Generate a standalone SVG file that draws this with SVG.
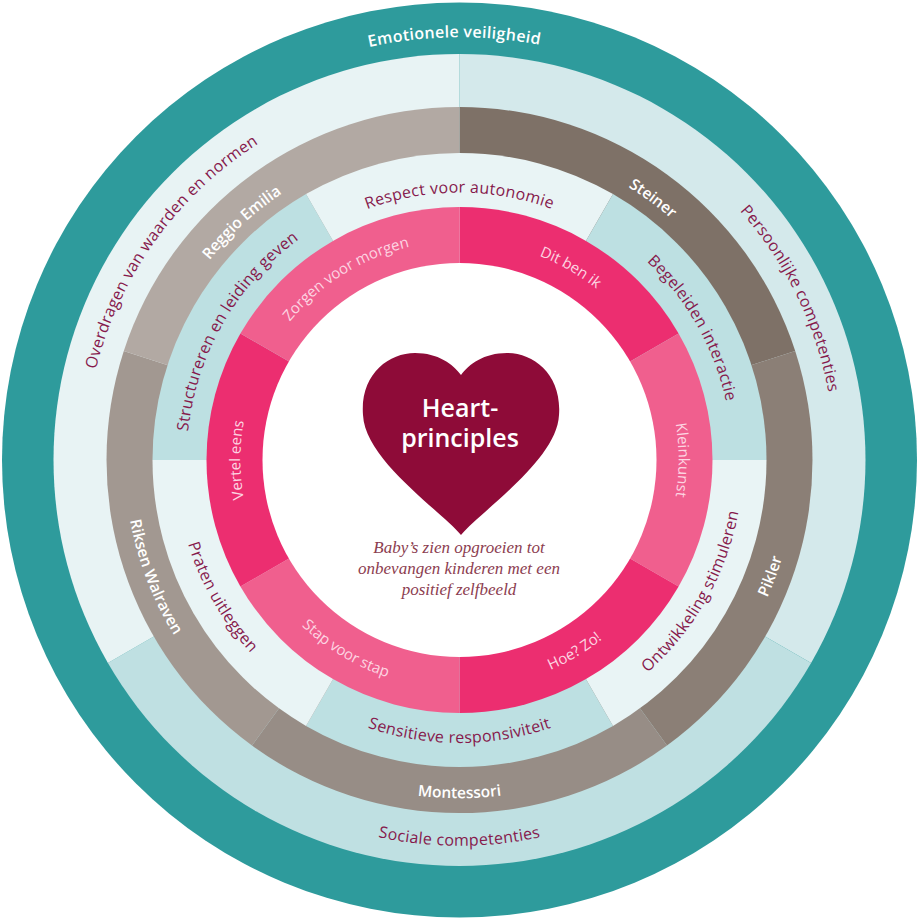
<svg xmlns="http://www.w3.org/2000/svg" xmlns:xlink="http://www.w3.org/1999/xlink" width="919" height="919" viewBox="0 0 919 919">
<style>
.ws{font-family:"Open Sans","Noto Sans",sans-serif;font-weight:600;fill:#ffffff;font-size:16px;letter-spacing:0.3px}
.gs{font-family:"Open Sans","Noto Sans",sans-serif;font-weight:600;fill:#ffffff;font-size:15.5px}
.ms{font-family:"Open Sans","Noto Sans",sans-serif;font-size:16px;fill:#86194c;letter-spacing:0.3px}
.ps{font-family:"Open Sans","Noto Sans",sans-serif;font-size:15px;fill:#fdd5e2}
.teal{fill:#2e9b9c}
.ol-l{fill:#e8f3f4}.ol-r{fill:#d4e9eb}.ol-b{fill:#bfe0e2}
.il-l{fill:#e9f4f5}.il-b{fill:#bde0e2}
.pk-d{fill:#ec2e70}.pk-l{fill:#f05f8e}
.heart{fill:#8e0b38}
.ht{font-family:"Open Sans","Noto Sans",sans-serif;font-weight:600;fill:#ffffff;font-size:25px}
.sub{font-family:"Liberation Serif",serif;font-style:italic;font-size:17px;fill:#8c3d50}
</style>
<defs>
<path id="pT1" d="M 42.1 391.6 A 423 423 0 0 1 875.1 381.5"/>
<path id="pO1" d="M 356.1 99.5 A 375 375 0 0 1 679.9 763.4"/>
<path id="pO2" d="M 79.4 527 A 386 386 0 0 0 839.6 527"/>
<path id="pO3" d="M 190.7 721.4 A 375 375 0 0 1 622.7 122.4"/>
<path id="pG1" d="M 238.5 227.2 A 321 321 0 0 1 746.8 603.2"/>
<path id="pG2" d="M 398.1 791.4 A 337 337 0 0 0 630.5 169.6"/>
<path id="pG3" d="M 126.6 518.7 A 338 338 0 0 0 792.4 518.7"/>
<path id="pG4" d="M 287 172.8 A 335 335 0 0 0 523.4 788.8"/>
<path id="pG5" d="M 189.6 631.9 A 320 320 0 0 1 654.3 206.1"/>
<path id="pI1" d="M 196.5 413.6 A 267 267 0 0 1 722.5 413.6"/>
<path id="pI2" d="M 368.4 202.7 A 273 273 0 0 1 633.1 670.7"/>
<path id="pI3" d="M 364.7 727.7 A 284 284 0 0 0 640.1 240.9"/>
<path id="pI4" d="M 180.8 509.1 A 283 283 0 0 0 738.2 509.1"/>
<path id="pI5" d="M 276.9 242.4 A 284 284 0 0 0 556.6 726.9"/>
<path id="pI6" d="M 284 669.1 A 273 273 0 0 1 552.9 203.5"/>
<path id="pP1" d="M 291.7 319.2 A 219 219 0 0 1 665.3 534.9"/>
<path id="pP2" d="M 497.5 244.3 A 219 219 0 0 1 497.5 675.7"/>
<path id="pP3" d="M 286.7 610.2 A 229 229 0 0 0 673.3 377.9"/>
<path id="pP4" d="M 245.7 377.9 A 229 229 0 0 0 632.3 610.2"/>
<path id="pP5" d="M 421.5 675.7 A 219 219 0 0 1 421.5 244.3"/>
<path id="pP6" d="M 256.4 542 A 219 219 0 0 1 622.2 313.5"/>
</defs>

<g id="emotionele-veiligheid">
<circle class="teal" cx="459.5" cy="460" r="457.5"/>
<text class="ws" text-anchor="middle"><textPath href="#pT1" xlink:href="#pT1" startOffset="50%">Emotionele veiligheid</textPath></text>
</g>

<g id="persoonlijke-competenties">
<path class="ol-r" d="M 459.5 460 L 459.5 54 A 406 406 0 0 1 811.1 663 Z"/>
</g>
<g id="sociale-competenties">
<path class="ol-b" d="M 459.5 460 L 811.1 663 A 406 406 0 0 1 107.9 663 Z"/>
</g>
<g id="overdragen-van-waarden">
<path class="ol-l" d="M 459.5 460 L 107.9 663 A 406 406 0 0 1 459.5 54 Z"/>
</g>

<g id="steiner">
<path fill="#7e7167" d="M 459.5 460 L 459.5 107 A 353 353 0 0 1 795.2 350.9 Z"/>
</g>
<g id="pikler">
<path fill="#8b7f76" d="M 459.5 460 L 795.2 350.9 A 353 353 0 0 1 667 745.6 Z"/>
</g>
<g id="montessori">
<path fill="#978d86" d="M 459.5 460 L 667 745.6 A 353 353 0 0 1 252 745.6 Z"/>
</g>
<g id="riksen-walraven">
<path fill="#a29891" d="M 459.5 460 L 252 745.6 A 353 353 0 0 1 123.8 350.9 Z"/>
</g>
<g id="reggio-emilia">
<path fill="#b2a9a3" d="M 459.5 460 L 123.8 350.9 A 353 353 0 0 1 459.5 107 Z"/>
</g>

<g id="respect-voor-autonomie">
<path class="il-l" d="M 459.5 460 L 306 194.1 A 307 307 0 0 1 613 194.1 Z"/>
</g>
<g id="begeleiden-interactie">
<path class="il-b" d="M 459.5 460 L 613 194.1 A 307 307 0 0 1 766.5 460 Z"/>
</g>
<g id="ontwikkeling-stimuleren">
<path class="il-l" d="M 459.5 460 L 766.5 460 A 307 307 0 0 1 613 725.9 Z"/>
</g>
<g id="sensitieve-responsiviteit">
<path class="il-b" d="M 459.5 460 L 613 725.9 A 307 307 0 0 1 306 725.9 Z"/>
</g>
<g id="praten-uitleggen">
<path class="il-l" d="M 459.5 460 L 306 725.9 A 307 307 0 0 1 152.5 460 Z"/>
</g>
<g id="structureren">
<path class="il-b" d="M 459.5 460 L 152.5 460 A 307 307 0 0 1 306 194.1 Z"/>
</g>

<g id="dit-ben-ik">
<path class="pk-d" d="M 459.5 460 L 459.5 207 A 253 253 0 0 1 678.6 333.5 Z"/>
</g>
<g id="kleinkunst">
<path class="pk-l" d="M 459.5 460 L 678.6 333.5 A 253 253 0 0 1 678.6 586.5 Z"/>
</g>
<g id="hoe-zo">
<path class="pk-d" d="M 459.5 460 L 678.6 586.5 A 253 253 0 0 1 459.5 713 Z"/>
</g>
<g id="stap-voor-stap">
<path class="pk-l" d="M 459.5 460 L 459.5 713 A 253 253 0 0 1 240.4 586.5 Z"/>
</g>
<g id="vertel-eens">
<path class="pk-d" d="M 459.5 460 L 240.4 586.5 A 253 253 0 0 1 240.4 333.5 Z"/>
</g>
<g id="zorgen-voor-morgen">
<path class="pk-l" d="M 459.5 460 L 240.4 333.5 A 253 253 0 0 1 459.5 207 Z"/>
</g>

<g id="labels">
<text class="ms" text-anchor="middle"><textPath href="#pO1" xlink:href="#pO1" startOffset="50%">Persoonlijke competenties</textPath></text>
<text class="ms" text-anchor="middle"><textPath href="#pO2" xlink:href="#pO2" startOffset="50%">Sociale competenties</textPath></text>
<text class="ms" text-anchor="middle"><textPath href="#pO3" xlink:href="#pO3" startOffset="50%">Overdragen van waarden en normen</textPath></text>
<text class="gs" text-anchor="middle"><textPath href="#pG1" xlink:href="#pG1" startOffset="50%">Steiner</textPath></text>
<text class="gs" text-anchor="middle"><textPath href="#pG2" xlink:href="#pG2" startOffset="50%">Pikler</textPath></text>
<text class="gs" text-anchor="middle"><textPath href="#pG3" xlink:href="#pG3" startOffset="50%">Montessori</textPath></text>
<text class="gs" text-anchor="middle"><textPath href="#pG4" xlink:href="#pG4" startOffset="50%">Riksen Walraven</textPath></text>
<text class="gs" text-anchor="middle"><textPath href="#pG5" xlink:href="#pG5" startOffset="50%">Reggio Emilia</textPath></text>
<text class="ms" text-anchor="middle"><textPath href="#pI1" xlink:href="#pI1" startOffset="50%">Respect voor autonomie</textPath></text>
<text class="ms" text-anchor="middle"><textPath href="#pI2" xlink:href="#pI2" startOffset="50%">Begeleiden interactie</textPath></text>
<text class="ms" text-anchor="middle"><textPath href="#pI3" xlink:href="#pI3" startOffset="50%">Ontwikkeling stimuleren</textPath></text>
<text class="ms" text-anchor="middle"><textPath href="#pI4" xlink:href="#pI4" startOffset="50%">Sensitieve responsiviteit</textPath></text>
<text class="ms" text-anchor="middle"><textPath href="#pI5" xlink:href="#pI5" startOffset="50%">Praten uitleggen</textPath></text>
<text class="ms" text-anchor="middle"><textPath href="#pI6" xlink:href="#pI6" startOffset="50%">Structureren en leiding geven</textPath></text>
<text class="ps" text-anchor="middle"><textPath href="#pP1" xlink:href="#pP1" startOffset="50%">Dit ben ik</textPath></text>
<text class="ps" text-anchor="middle"><textPath href="#pP2" xlink:href="#pP2" startOffset="50%">Kleinkunst</textPath></text>
<text class="ps" text-anchor="middle"><textPath href="#pP3" xlink:href="#pP3" startOffset="50%">Hoe? Zo!</textPath></text>
<text class="ps" text-anchor="middle"><textPath href="#pP4" xlink:href="#pP4" startOffset="50%">Stap voor stap</textPath></text>
<text class="ps" text-anchor="middle"><textPath href="#pP5" xlink:href="#pP5" startOffset="50%">Vertel eens</textPath></text>
<text class="ps" text-anchor="middle"><textPath href="#pP6" xlink:href="#pP6" startOffset="50%">Zorgen voor morgen</textPath></text>
</g>

<g id="heart-principles">
<circle cx="459.5" cy="460" r="197" fill="#ffffff"/>
<path class="heart" d="M 461 535 C 440 510 365 460 363 415 C 360 375 388 353 415 353 C 438 353 453 364 461 375 C 469 364 484 353 507 353 C 534 353 562 375 559 415 C 557 460 482 510 461 535 Z"/>
<text class="ht" x="460" y="417" text-anchor="middle">Heart-</text>
<text class="ht" x="460" y="447" text-anchor="middle">principles</text>
<text class="sub" x="459" y="553" text-anchor="middle">Baby’s zien opgroeien tot</text>
<text class="sub" x="459" y="574" text-anchor="middle">onbevangen kinderen met een</text>
<text class="sub" x="459" y="595" text-anchor="middle">positief zelfbeeld</text>
</g>

<g id="connectors"/>
</svg>
